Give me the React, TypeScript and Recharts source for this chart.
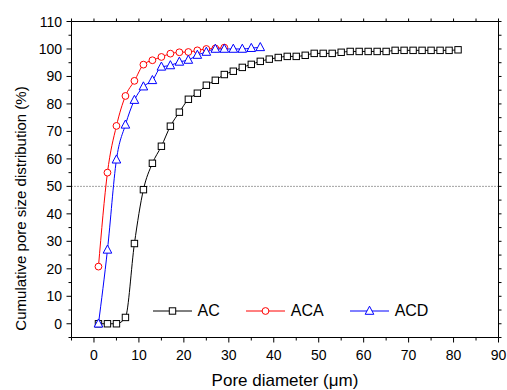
import React from 'react';
import { LineChart, Line, XAxis, YAxis, ReferenceLine, Legend } from 'recharts';

const FONT = '"Liberation Sans", Arial, sans-serif';

const acX = [1, 3, 5, 7, 9, 11, 13, 15, 17, 19, 21, 23, 25, 27, 29, 31, 33, 35, 37, 39, 41, 43, 45, 47, 49, 51, 53, 55, 57, 59, 61, 63, 65, 67, 69, 71, 73, 75, 77, 79, 81];
const acValues = [0, 0, 0, 2.3, 29.2, 48.8, 58.4, 64.6, 71.9, 77, 81.7, 83.9, 86.8, 88.6, 90.7, 91.9, 93.3, 94.4, 95.5, 96.3, 96.9, 97.3, 97.3, 97.7, 98.4, 98.4, 98.4, 98.8, 99.1, 99.1, 99.1, 99.1, 99.1, 99.5, 99.5, 99.5, 99.5, 99.5, 99.5, 99.5, 99.7];
const acaX = [1, 3, 5, 7, 9, 11, 13, 15, 17, 19, 21, 23, 25, 27, 29];
const acaValues = [20.8, 55, 72, 82.9, 88.4, 94.3, 95.9, 97.1, 98.3, 98.8, 98.9, 99.5, 100, 100.2, 100.5];
const acdX = [1, 3, 5, 7, 9, 11, 13, 15, 17, 19, 21, 23, 25, 27, 29, 31, 33, 35, 37];
const acdValues = [0, 26.9, 59.7, 72.4, 81.4, 86.3, 88.6, 93.5, 94, 95.3, 96, 97.8, 98.9, 100, 100, 100, 100, 100.3, 100.6];

const xTicks = [-5, 0, 5, 10, 15, 20, 25, 30, 35, 40, 45, 50, 55, 60, 65, 70, 75, 80, 85, 90];
const yTicks = [-5, 0, 5, 10, 15, 20, 25, 30, 35, 40, 45, 50, 55, 60, 65, 70, 75, 80, 85, 90, 95, 100, 105, 110];
const xDomain = [-5, 90];
const yDomain = [-5, 110];
const refY = 50;

const toData = (xs: number[], ys: number[]) => xs.map((x, i) => ({ x, y: ys[i] }));
const acData = toData(acX, acValues);
const acaData = toData(acaX, acaValues);
const acdData = toData(acdX, acdValues);

const isMajor = (v: number) => v >= 0 && v % 10 === 0;

const BottomTick = (p: any) => {
  const { x, y, payload } = p;
  const v = payload.value;
  const m = isMajor(v);
  return (
    <g>
      <line x1={x} y1={y} x2={x} y2={y + (m ? 5 : 3)} stroke="#000" strokeWidth={1} />
      {m && (
        <text x={x} y={y + 17} textAnchor="middle" dominantBaseline="central" fontSize={14} fontFamily={FONT} fill="#000">
          {v}
        </text>
      )}
    </g>
  );
};

const LeftTick = (p: any) => {
  const { x, y, payload } = p;
  const v = payload.value;
  const m = isMajor(v);
  return (
    <g>
      <line x1={x - (m ? 5 : 3)} y1={y} x2={x} y2={y} stroke="#000" strokeWidth={1} />
      {m && (
        <text x={x - 9.5} y={y} textAnchor="end" dominantBaseline="central" fontSize={14} fontFamily={FONT} fill="#000">
          {v}
        </text>
      )}
    </g>
  );
};

const TopTick = (p: any) => {
  const { x, y } = p;
  return <line x1={x} y1={y} x2={x} y2={y - 3} stroke="#000" strokeWidth={1} />;
};

const RightTick = (p: any) => {
  const { x, y } = p;
  return <line x1={x} y1={y} x2={x + 3} y2={y} stroke="#000" strokeWidth={1} />;
};

const SquareDot = (p: any) => {
  const { cx, cy } = p;
  if (cx == null || cy == null) return null;
  return <rect key={`s${cx}`} x={cx - 3.2} y={cy - 3.2} width={6.4} height={6.4} fill="#fff" stroke="#000" strokeWidth={1} />;
};
const CircleDot = (p: any) => {
  const { cx, cy } = p;
  if (cx == null || cy == null) return null;
  return <circle key={`c${cx}`} cx={cx} cy={cy} r={3.4} fill="#fff" stroke="#ff0000" strokeWidth={1} />;
};
const TriangleDot = (p: any) => {
  const { cx, cy } = p;
  if (cx == null || cy == null) return null;
  return (
    <polygon
      key={`t${cx}`}
      points={`${cx},${cy - 4.8} ${cx - 4.3},${cy + 3.3} ${cx + 4.3},${cy + 3.3}`}
      fill="#fff"
      stroke="#0000ff"
      strokeWidth={1}
    />
  );
};

const markerFor = (name: string, cx: number, cy: number) => {
  if (name === 'AC') return <SquareDot cx={cx} cy={cy} />;
  if (name === 'ACA') return <CircleDot cx={cx} cy={cy} />;
  return <TriangleDot cx={cx} cy={cy} />;
};

const LegendContent = (props: any) => {
  const { payload } = props;
  return (
    <div style={{ display: 'flex', alignItems: 'center', fontFamily: FONT, fontSize: 16, color: '#000', whiteSpace: 'nowrap' }}>
      {(payload || []).map((e: any) => (
        <div key={e.value} style={{ display: 'flex', alignItems: 'center', marginRight: 26 }}>
          <svg width={39} height={20} style={{ display: 'block' }}>
            <line x1={0} y1={10} x2={39} y2={10} stroke={e.color} strokeWidth={1} />
            {markerFor(e.value, 19.5, 10)}
          </svg>
          <span style={{ marginLeft: 6, lineHeight: '20px' }}>{e.value}</span>
        </div>
      ))}
    </div>
  );
};

const PLOT_LEFT = 71.5;
const PLOT_TOP = 21.5;
const PLOT_RIGHT = 498.5;
const PLOT_BOTTOM = 337.5;

const YTitle = () => {
  const x = 20.5;
  const y = (PLOT_TOP + PLOT_BOTTOM) / 2 + 29;
  return (
    <text x={x} y={y} transform={`rotate(-90, ${x}, ${y})`} textAnchor="middle" dominantBaseline="central" fontSize={15} fontFamily={FONT} fill="#000">
      Cumulative pore size distribution (%)
    </text>
  );
};

const XTitle = () => {
  const x = (PLOT_LEFT + PLOT_RIGHT) / 2;
  const y = PLOT_BOTTOM + 48.5;
  return (
    <text x={x} y={y} textAnchor="middle" fontSize={17} fontFamily={FONT} fill="#000">
      Pore diameter (μm)
    </text>
  );
};

export default function App() {
  return (
    <div style={{ position: 'absolute', left: 0, top: 0, width: 507, height: 390, background: '#fff' }}>
      <LineChart
        width={507}
        height={390}
        margin={{ top: PLOT_TOP - 1, right: 507 - PLOT_RIGHT - 1, bottom: 390 - PLOT_BOTTOM - 1, left: PLOT_LEFT - 1 }}
      >
        <XAxis
          xAxisId="b"
          type="number"
          dataKey="x"
          domain={xDomain}
          ticks={xTicks}
          interval={0}
          allowDataOverflow
          height={1}
          tickSize={0}
          tickMargin={0}
          tickLine={false}
          axisLine={{ stroke: '#000', strokeWidth: 1 }}
          tick={BottomTick}
          label={<XTitle />}
        />
        <XAxis
          xAxisId="t"
          orientation="top"
          type="number"
          dataKey="x"
          domain={xDomain}
          ticks={xTicks}
          interval={0}
          allowDataOverflow
          height={1}
          tickSize={0}
          tickMargin={0}
          tickLine={false}
          axisLine={{ stroke: '#000', strokeWidth: 1 }}
          tick={TopTick}
        />
        <YAxis
          yAxisId="l"
          type="number"
          domain={yDomain}
          ticks={yTicks}
          interval={0}
          allowDataOverflow
          width={1}
          tickSize={0}
          tickMargin={0}
          tickLine={false}
          axisLine={{ stroke: '#000', strokeWidth: 1 }}
          tick={LeftTick}
          label={<YTitle />}
        />
        <YAxis
          yAxisId="r"
          orientation="right"
          type="number"
          domain={yDomain}
          ticks={yTicks}
          interval={0}
          allowDataOverflow
          width={1}
          tickSize={0}
          tickMargin={0}
          tickLine={false}
          axisLine={{ stroke: '#000', strokeWidth: 1 }}
          tick={RightTick}
        />
        <ReferenceLine xAxisId="b" yAxisId="l" y={refY} stroke="#444" strokeWidth={1} strokeDasharray="1 2" />
        <Line
          xAxisId="b"
          yAxisId="l"
          data={acData}
          dataKey="y"
          name="AC"
          type="monotone"
          stroke="#000"
          strokeWidth={1}
          dot={<SquareDot />}
          activeDot={false}
          isAnimationActive={false}
        />
        <Line
          xAxisId="b"
          yAxisId="l"
          data={acaData}
          dataKey="y"
          name="ACA"
          type="monotone"
          stroke="#ff0000"
          strokeWidth={1}
          dot={<CircleDot />}
          activeDot={false}
          isAnimationActive={false}
        />
        <Line
          xAxisId="b"
          yAxisId="l"
          data={acdData}
          dataKey="y"
          name="ACD"
          type="monotone"
          stroke="#0000ff"
          strokeWidth={1}
          dot={<TriangleDot />}
          activeDot={false}
          isAnimationActive={false}
        />
        <Legend
          layout="horizontal"
          verticalAlign="middle"
          align="center"
          content={<LegendContent />}
          wrapperStyle={{ left: 152.5, top: 300.5, width: 'auto', height: 20 }}
        />
      </LineChart>
    </div>
  );
}
